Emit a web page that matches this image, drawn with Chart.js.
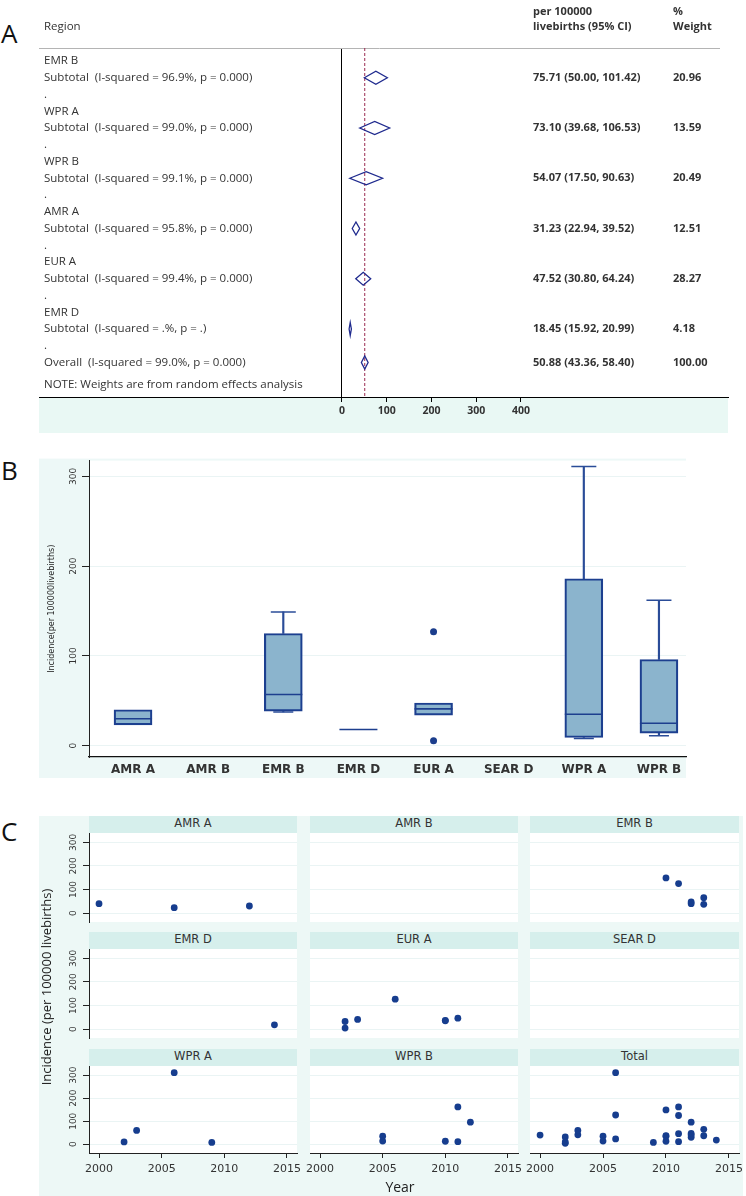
<!DOCTYPE html>
<html>
<head>
<meta charset="utf-8">
<script src="https://cdn.jsdelivr.net/npm/chart.js@4.4.0/dist/chart.umd.min.js"></script>
<style>
body { margin: 0; width: 746px; height: 1196px; position: relative; overflow: hidden; background: #fff; }
canvas, .abs { position: absolute; }
.letter { position: absolute; left: 1px; font: 26px 'Open Sans', sans-serif; line-height: 26px; color: #111; }
.strip { position: absolute; height: 17px; line-height: 17px; background: #d6efec; color: #333;
         font: 11.5px 'DejaVu Sans', sans-serif; text-align: center; }
</style>
</head>
<body>
<div class="letter" style="top:20px">A</div>
<div class="letter" style="top:457px">B</div>
<div class="letter" style="top:818px">C</div>

<canvas id="forest" width="746" height="440" style="left:0;top:0"></canvas>
<canvas id="boxes" width="746" height="356" style="left:0;top:440px"></canvas>

<div class="abs" style="left:39px;top:816px;width:704px;height:380px;background:#edf8f6"></div>
<div id="facets"></div>
<div class="abs" style="left:-75px;top:979px;width:240px;height:16px;line-height:16px;text-align:center;transform:rotate(-90deg);font:13px 'Open Sans',sans-serif;color:#222">Incidence (per 100000 livebirths)</div>
<div class="abs" style="left:370px;top:1177px;width:60px;text-align:center;font:14px 'Open Sans',sans-serif;color:#222">Year</div>

<script>
// ---- A: meta-analysis by region ----
var regions = ['EMR B', 'WPR A', 'WPR B', 'AMR A', 'EUR A', 'EMR D'];
var iSquared = ['96.9%', '99.0%', '99.1%', '95.8%', '99.4%', '.%'];
var pValues = ['0.000', '0.000', '0.000', '0.000', '0.000', '.'];
var estimate = [75.71, 73.10, 54.07, 31.23, 47.52, 18.45];
var ciLow = [50.00, 39.68, 17.50, 22.94, 30.80, 15.92];
var ciHigh = [101.42, 106.53, 90.63, 39.52, 64.24, 20.99];
var weights = [20.96, 13.59, 20.49, 12.51, 28.27, 4.18];
var overallEst = 50.88, overallLow = 43.36, overallHigh = 58.40, overallWeight = 100.00;
var overallISq = '99.0%', overallP = '0.000';
var forestTicks = [0, 100, 200, 300, 400];

// ---- B: box plot by region ----
var boxCats = ['AMR A', 'AMR B', 'EMR B', 'EMR D', 'EUR A', 'SEAR D', 'WPR A', 'WPR B'];
var boxLow = [23, null, 37.5, 18, 34, null, 8, 11];
var boxQ1 = [23, null, 38.5, 18, 34, null, 9, 14];
var boxMedian = [30, null, 57, 18, 41, null, 35, 25];
var boxQ3 = [40, null, 125, 18, 47.5, null, 186, 96];
var boxHigh = [40, null, 149, 18, 47.5, null, 311, 162];
var outlierCat = ['EUR A', 'EUR A'];
var outlierVal = [127, 5.5];
var incTicks = [0, 100, 200, 300];

// ---- C: incidence by year ----
var yearTicks = [2000, 2005, 2010, 2015];
var yrAMRA = [2000, 2006, 2012], incAMRA = [40, 23, 30];
var yrAMRB = [], incAMRB = [];
var yrEMRB = [2010, 2011, 2012, 2012, 2013, 2013], incEMRB = [149, 125, 40, 47, 65, 37];
var yrEMRD = [2014], incEMRD = [18];
var yrEURA = [2002, 2002, 2003, 2006, 2010, 2010, 2011], incEURA = [32, 4, 41, 127, 35, 37, 46];
var yrSEARD = [], incSEARD = [];
var yrWPRA = [2002, 2003, 2006, 2009], incWPRA = [10, 60, 311, 8];
var yrWPRB = [2005, 2005, 2010, 2011, 2011, 2012], incWPRB = [35, 14, 13, 11, 162, 96];

var navy = '#1b3d8c';

Chart.defaults.font.family = "'DejaVu Sans', sans-serif";
Chart.defaults.animation = false;
Chart.defaults.responsive = false;
Chart.defaults.plugins.legend.display = false;
Chart.defaults.plugins.tooltip.enabled = false;

// ================= A =================
var rowLabels = [];
regions.forEach(function (r, i) {
  rowLabels.push(r, 'Subtotal  (I-squared = ' + iSquared[i] + ', p = ' + pValues[i] + ')', '.');
});
rowLabels.push('Overall  (I-squared = ' + overallISq + ', p = ' + overallP + ')');
rowLabels.push('NOTE: Weights are from random effects analysis');
var rowPos = rowLabels.map(function (l, i) { return i < 19 ? i : 19.35; });

var forestDraw = {
  id: 'forestDraw',
  beforeDraw: function (chart) {
    var a = chart.chartArea, ctx = chart.ctx;
    ctx.save();
    ctx.fillStyle = '#e9f8f4';
    ctx.fillRect(a.left, a.bottom, a.right - a.left, 36);
    ctx.restore();
  },
  afterDatasetsDraw: function (chart) {
    var ctx = chart.ctx, a = chart.chartArea, xs = chart.scales.x, ys = chart.scales.y;
    ctx.save();
    ctx.strokeStyle = '#b4b4b4';
    ctx.lineWidth = 1;
    ctx.beginPath(); ctx.moveTo(a.left, a.top + 0.5); ctx.lineTo(720, a.top + 0.5); ctx.stroke();

    var xo = xs.getPixelForValue(overallEst);
    ctx.strokeStyle = '#9a2a50';
    ctx.setLineDash([3, 2]);
    ctx.beginPath(); ctx.moveTo(xo, a.top); ctx.lineTo(xo, a.bottom); ctx.stroke();
    ctx.setLineDash([]);

    function diamond(lo, est, hi, row) {
      var y = ys.getPixelForValue(row);
      ctx.beginPath();
      ctx.moveTo(xs.getPixelForValue(lo), y);
      ctx.lineTo(xs.getPixelForValue(est), y - 6.5);
      ctx.lineTo(xs.getPixelForValue(hi), y);
      ctx.lineTo(xs.getPixelForValue(est), y + 6.5);
      ctx.closePath();
      ctx.stroke();
    }
    ctx.strokeStyle = '#1f2a8e';
    ctx.lineWidth = 1.3;
    regions.forEach(function (r, i) { diamond(ciLow[i], estimate[i], ciHigh[i], 3 * i + 1); });
    diamond(overallLow, overallEst, overallHigh, 18);

    ctx.fillStyle = '#333';
    ctx.textBaseline = 'middle';
    ctx.font = "11.5px 'Open Sans', sans-serif";
    ctx.fillText('Region', 44, 27);
    ctx.font = "bold 11px 'Open Sans', sans-serif";
    ctx.fillText('per 100000', 533, 12);
    ctx.fillText('livebirths (95% CI)', 533, 27);
    ctx.fillText('%', 673, 12);
    ctx.fillText('Weight', 673, 27);
    function ci(e, l, h) { return e.toFixed(2) + ' (' + l.toFixed(2) + ', ' + h.toFixed(2) + ')'; }
    regions.forEach(function (r, i) {
      var y = ys.getPixelForValue(3 * i + 1);
      ctx.fillText(ci(estimate[i], ciLow[i], ciHigh[i]), 533, y);
      ctx.fillText(weights[i].toFixed(2), 673, y);
    });
    var yo = ys.getPixelForValue(18);
    ctx.fillText(ci(overallEst, overallLow, overallHigh), 533, yo);
    ctx.fillText(overallWeight.toFixed(2), 673, yo);
    ctx.restore();
  }
};

new Chart(document.getElementById('forest'), {
  type: 'scatter',
  data: { datasets: [] },
  options: {
    layout: { padding: { left: 39, right: 18, top: 48, bottom: 7 } },
    scales: {
      x: {
        type: 'linear', min: -677, max: 862.6,
        afterBuildTicks: function (s) { s.ticks = forestTicks.map(function (v) { return { value: v }; }); },
        afterFit: function (s) { s.height = 36; },
        grid: {
          color: function (c) { return c.tick && c.tick.value === 0 ? '#000' : 'rgba(0,0,0,0)'; },
          tickColor: '#000', tickLength: 5
        },
        border: { color: '#000' },
        ticks: { font: { family: 'Open Sans', size: 10.5, weight: 'bold' }, color: '#333', padding: 3 }
      },
      y: {
        type: 'linear', reverse: true, min: -0.776, max: 20.06,
        afterBuildTicks: function (s) { s.ticks = rowPos.map(function (v) { return { value: v }; }); },
        afterFit: function (s) { s.width = 0; },
        grid: { display: false, drawTicks: false },
        border: { display: false },
        ticks: {
          mirror: true, padding: 5, crossAlign: 'near', autoSkip: false,
          font: { family: 'Open Sans', size: 11.5 }, color: '#333',
          callback: function (v, i) { return rowLabels[i]; }
        }
      }
    }
  },
  plugins: [forestDraw]
});

// ================= B =================
function idx(c) { return boxCats.indexOf(c); }
var upperWhisk = [], lowerWhisk = [], upperCap = [], lowerCap = [], boxBars = [], medians = [];
boxCats.forEach(function (c, i) {
  if (boxMedian[i] === null) return;
  medians.push({ x: i, y: boxMedian[i] });
  if (boxQ3[i] > boxQ1[i]) boxBars.push({ x: i, y: [boxQ1[i], boxQ3[i]] });
  if (boxHigh[i] > boxQ3[i]) { upperWhisk.push({ x: i, y: [boxQ3[i], boxHigh[i]] }); upperCap.push({ x: i, y: boxHigh[i] }); }
  if (boxLow[i] < boxQ1[i]) { lowerWhisk.push({ x: i, y: [boxLow[i], boxQ1[i]] }); lowerCap.push({ x: i, y: boxLow[i] }); }
});
var outliers = outlierCat.map(function (c, i) { return { x: idx(c), y: outlierVal[i] }; });

var boxBg = {
  id: 'boxBg',
  beforeDraw: function (chart) {
    var a = chart.chartArea, ctx = chart.ctx;
    ctx.save();
    ctx.fillStyle = '#edf8f7';
    ctx.fillRect(39, a.top - 2, a.right - 39, a.bottom - a.top + 23);
    ctx.fillStyle = '#fff';
    ctx.fillRect(a.left, a.top, a.right - a.left, a.bottom - a.top);
    ctx.restore();
  }
};

function capSet(data, r) {
  return { type: 'line', data: data, showLine: false, pointStyle: 'line', pointRadius: r,
           pointBorderWidth: 1.5, pointBorderColor: '#2a4c98', order: 1 };
}

new Chart(document.getElementById('boxes'), {
  type: 'bar',
  data: {
    datasets: [
      { type: 'line', data: outliers, showLine: false, pointStyle: 'circle', pointRadius: 3.5,
        pointBackgroundColor: navy, pointBorderWidth: 0, order: 0 },
      { type: 'line', data: medians, showLine: false, pointStyle: 'line', pointRadius: 19,
        pointBorderWidth: 1.6, pointBorderColor: '#1d3f8e', order: 1 },
      capSet(upperCap, 12.5),
      capSet(lowerCap, 10),
      { data: boxBars, backgroundColor: '#8bb4cd', borderColor: '#1c3f8f', borderWidth: 2.2,
        borderSkipped: false, barThickness: 38, grouped: false, order: 2 },
      { data: upperWhisk, backgroundColor: '#2a4c98', barThickness: 1.5, grouped: false, order: 3 },
      { data: lowerWhisk, backgroundColor: '#2a4c98', barThickness: 1.5, grouped: false, order: 3 }
    ]
  },
  options: {
    layout: { padding: { left: 39, right: 60, top: 17, bottom: 18 } },
    scales: {
      x: {
        type: 'linear', offset: false, min: -0.586, max: 7.36,
        afterBuildTicks: function (s) { s.ticks = boxCats.map(function (c, i) { return { value: i }; }); },
        afterFit: function (s) { s.height = 21; },
        grid: { display: false, drawTicks: false },
        border: { color: '#111', width: 1.2 },
        ticks: { autoSkip: false, maxRotation: 0, padding: 6, color: '#333',
                 font: { size: 12, weight: 'bold' },
                 callback: function (v, i) { return boxCats[i]; } }
      },
      y: {
        type: 'linear', min: -12.7, max: 317.7,
        afterBuildTicks: function (s) { s.ticks = incTicks.map(function (v) { return { value: v }; }); },
        afterFit: function (s) { s.width = 50; },
        grid: { color: '#eaf4f4', tickColor: '#222', tickLength: 7 },
        border: { color: '#222' },
        ticks: { minRotation: 90, maxRotation: 90, crossAlign: 'center', padding: 0, autoSkip: false,
                 font: { size: 9 }, color: '#333' },
        title: { display: true, text: 'Incidence(per 100000livebirths)', font: { size: 8 },
                 color: '#222', padding: { top: 8, bottom: 0 } }
      }
    }
  },
  plugins: [boxBg]
});

// ================= C =================
var facetNames = ['AMR A', 'AMR B', 'EMR B', 'EMR D', 'EUR A', 'SEAR D', 'WPR A', 'WPR B', 'Total'];
var facetYears = [yrAMRA, yrAMRB, yrEMRB, yrEMRD, yrEURA, yrSEARD, yrWPRA, yrWPRB];
var facetInc = [incAMRA, incAMRB, incEMRB, incEMRD, incEURA, incSEARD, incWPRA, incWPRB];
facetYears.push([].concat.apply([], facetYears));
facetInc.push([].concat.apply([], facetInc));

var colL = [89, 310, 530], colR = [297, 518, 739];
var rowT = [833, 949, 1066], rowB = [922, 1038, 1153];

var whiteArea = {
  id: 'whiteArea',
  beforeDraw: function (chart) {
    var a = chart.chartArea;
    chart.ctx.save();
    chart.ctx.fillStyle = '#fff';
    chart.ctx.fillRect(a.left, a.top, a.right - a.left, a.bottom - a.top);
    chart.ctx.restore();
  }
};

var holder = document.getElementById('facets');
facetNames.forEach(function (name, k) {
  var r = Math.floor(k / 3), c = k % 3;
  var L = colL[c], R = colR[c], T = rowT[r], B = rowB[r];

  var strip = document.createElement('div');
  strip.className = 'strip';
  strip.style.left = L + 'px';
  strip.style.top = (T - 17) + 'px';
  strip.style.width = (R - L) + 'px';
  strip.textContent = name;
  holder.appendChild(strip);

  var cv = document.createElement('canvas');
  cv.width = R - L + 64;
  cv.height = B - T + 57;
  cv.style.left = (L - 50) + 'px';
  cv.style.top = (T - 12) + 'px';
  holder.appendChild(cv);

  var showY = c === 0, showX = r === 2;
  new Chart(cv, {
    type: 'scatter',
    data: {
      datasets: [{
        data: facetYears[k].map(function (yr, i) { return { x: yr, y: facetInc[k][i] }; }),
        pointRadius: 3.4, pointBackgroundColor: '#163d8e', pointBorderWidth: 0
      }]
    },
    options: {
      layout: { padding: { left: showY ? 0 : 50, right: 14, top: 12, bottom: showX ? 15 : 45 } },
      scales: {
        x: {
          type: 'linear', min: 1999.2, max: 2015.8, display: showX,
          afterBuildTicks: function (s) { s.ticks = yearTicks.map(function (v) { return { value: v }; }); },
          afterFit: function (s) { s.height = showX ? 30 : 0; },
          grid: { drawOnChartArea: false, tickColor: '#222', tickLength: 5 },
          border: { color: '#222' },
          ticks: { maxRotation: 0, autoSkip: false, padding: 5, color: '#333', font: { size: 11 },
                   callback: function (v) { return String(v); } }
        },
        y: {
          type: 'linear', min: -38, max: 340,
          afterBuildTicks: function (s) { s.ticks = incTicks.map(function (v) { return { value: v }; }); },
          afterFit: function (s) { s.width = showY ? 50 : 0; },
          grid: { color: '#eaf4f4', drawTicks: showY, tickColor: '#222', tickLength: 6 },
          border: { display: showY, color: '#222' },
          ticks: { display: showY, minRotation: 90, maxRotation: 90, crossAlign: 'center', autoSkip: false,
                   padding: 1, font: { size: 9 }, color: '#333' }
        }
      }
    },
    plugins: [whiteArea]
  });
});
</script>
</body>
</html>
